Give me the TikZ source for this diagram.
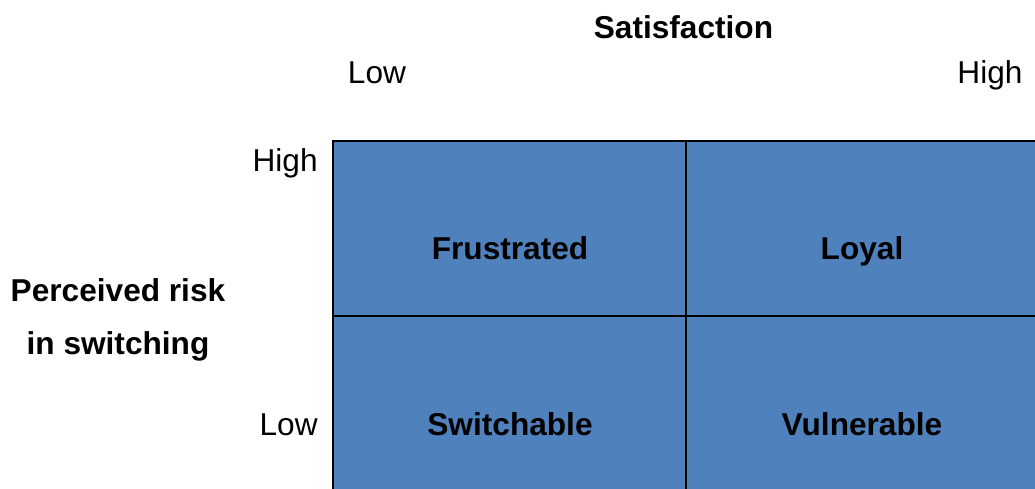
\documentclass[tikz,border=0pt]{standalone}
\usepackage{fontspec}
\setmainfont{Liberation Sans}
\usetikzlibrary{positioning}
\definecolor{cellblue}{RGB}{79,129,189}
\tikzset{
  cell/.style={draw, line width=1.3pt, fill=cellblue, minimum width=7.06cm, minimum height=3.5cm, inner sep=0pt},
  plain/.style={font=\fontsize{18}{22}\selectfont, inner sep=0pt},
  heading/.style={font=\fontsize{18}{30}\selectfont\bfseries, inner sep=0pt}
}
\begin{document}
\begin{tikzpicture}[x=0.02cm,y=-0.02cm]
\useasboundingbox (0,0) rectangle (1035,488);
\clip (0,0) rectangle (1035,488);

\node[cell] (frustratedcell) at (509.5,228.5) {};
\node[cell] (loyalcell) at (862.5,228.5) {};
\node[cell] (switchcell) at (509.5,403.5) {};
\node[cell] (vulncell) at (862.5,403.5) {};

\node[heading, anchor=base] (frustrated) at (510,259) {Frustrated};
\node[heading, anchor=base] (loyal) at (862,259) {Loyal};
\node[heading, anchor=base] (switchable) at (510,435) {Switchable};
\node[heading, anchor=base] (vulnerable) at (862,435) {Vulnerable};

\node[heading, anchor=base] (satisfaction) at (683.5,38) {Satisfaction};
\node[plain, anchor=base] (satlow) at (377,83) {Low};
\node[plain, anchor=base] (sathigh) at (990,83) {High};

\node[plain, anchor=base east] (riskhigh) at (318,171) {High};
\node[plain, anchor=base east] (risklow) at (318,435) {Low};
\node[heading, align=center] (risk) at (118,320) {Perceived risk\\in switching};

\end{tikzpicture}
\end{document}
